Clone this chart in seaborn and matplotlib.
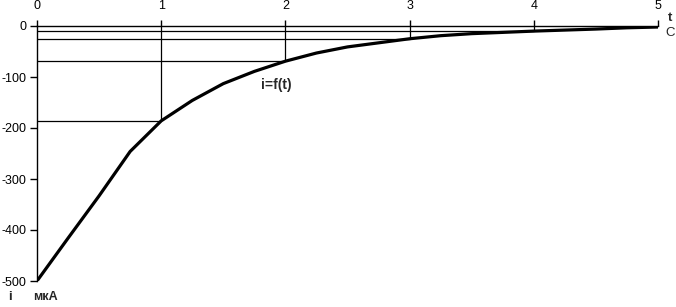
import matplotlib
matplotlib.use("Agg")
import matplotlib.pyplot as plt
import seaborn as sns
import pandas as pd

t_values = [0, 0.25, 0.5, 0.75, 1, 1.25, 1.5, 1.75, 2, 2.25, 2.5, 2.75,
            3, 3.25, 3.5, 3.75, 4, 4.25, 4.5, 4.75, 5]
i_values = [-500, -416, -333, -246, -186, -146, -113, -89, -69, -53, -41, -33,
            -25, -19, -15, -12.5, -10, -8, -6, -3.5, -2]
drop_t = [1, 2, 3, 4]
x_ticks = [0, 1, 2, 3, 4, 5]
y_ticks = [0, -100, -200, -300, -400, -500]

sns.set_style("white")
plt.rcParams['font.family'] = ['Liberation Sans', 'DejaVu Sans']

df = pd.DataFrame({"t": t_values, "i": i_values})

W, H = 676, 307
fig = plt.figure(figsize=(W / 100, H / 100), dpi=100)
ax = fig.add_axes([37 / W, 26 / H, (658 - 37) / W, (281 - 26) / H])

# drop lines
lookup = dict(zip(t_values, i_values))
for tv in drop_t:
    iv = lookup[tv]
    ax.hlines(iv, 0, tv, colors="black", linewidth=0.9, zorder=2)
    ax.vlines(tv, iv, 0, colors="black", linewidth=0.9, zorder=2)

sns.lineplot(data=df, x="t", y="i", ax=ax, color="black", linewidth=2.3,
             zorder=3, sort=False)

ax.set_xlim(0, 5)
ax.set_ylim(-500, 0)
ax.xaxis.tick_top()
ax.set_xticks(x_ticks)
ax.set_xticklabels([str(v) for v in x_ticks])
ax.set_yticks(y_ticks)
ax.set_yticklabels([str(v) for v in y_ticks])
ax.tick_params(axis="x", direction="out", length=4, width=1, pad=6,
               labelsize=9, top=True, bottom=False, colors="black")
ax.tick_params(axis="y", direction="out", length=5, width=1, pad=2.5,
               labelsize=9, left=True, colors="black")
for s in ["bottom", "right"]:
    ax.spines[s].set_visible(False)
for s in ["top", "left"]:
    ax.spines[s].set_visible(True)
    ax.spines[s].set_color("black")
    ax.spines[s].set_linewidth(1)
ax.set_xlabel("")
ax.set_ylabel("")
ax.set_facecolor("white")

ax.text(1.93, -116, "i=f(t)", ha="center", va="center", fontsize=10,
        fontweight="bold")

fig.text(670 / W, 1 - 18 / H, "t", ha="center", va="center", fontsize=9.5,
         fontweight="bold")
fig.text(670 / W, 1 - 33 / H, "С", ha="center", va="center", fontsize=9.5)
fig.text(10 / W, 1 - 297 / H, "i", ha="center", va="center", fontsize=9.5,
         fontweight="bold")
fig.text(45 / W, 1 - 297 / H, "мкА", ha="center", va="center", fontsize=9,
         fontweight="bold")

fig.savefig("out.png", dpi=100, facecolor="white")
